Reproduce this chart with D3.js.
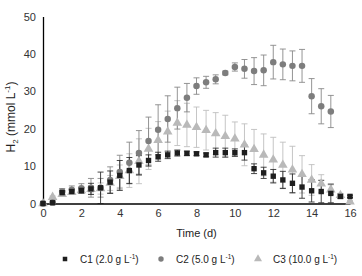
<!DOCTYPE html>
<html>
<head>
<meta charset="utf-8">
<script src="https://cdn.jsdelivr.net/npm/d3@7"></script>
<style>
  body { margin: 0; background: #fff; }
  text { font-family: "Liberation Sans", Arial, sans-serif; }
</style>
</head>
<body>
<div id="vis"></div>
<script>
const width = 362
const height = 276

// time in days, every half day
const time = d3.range(0, 16.01, 0.5)

const c1 = [0, 0.2, 2.9, 3.2, 3.5, 3.9, 4.2, 5.7, 7.5, 8.8, 10.3, 11.5, 12.5, 13.0, 13.5, 13.4, 13.3,
  13.0, 13.6, 13.6, 13.6, 13.6, 9.3, 8.2, 7.3, 6.3, 5.4, 4.4, 3.4, 3.2, 2.7, 1.9, 1.9]
const c1Err = [0, 0, 0.5, 0.6, 0.8, 1.5, 4.2, 3.0, 4.0, 3.5, 2.5, 1.5, 1.2, 1.0, 0.8, 0.6, 0.5,
  0.5, 1.2, 1.2, 1.0, 2.0, 1.3, 1.5, 1.8, 2.3, 2.5, 3.0, 3.0, 3.0, 2.5, 0.6, 0.3]

const c2 = [0, 0.3, 3.2, 3.7, 4.1, 4.2, 4.2, 6.3, 8.4, 10.9, 13.5, 16.7, 19.7, 22.6, 25.5, 28.3, 31.4,
  32.4, 33.2, 34.9, 36.5, 36.0, 35.4, 35.6, 37.8, 37.2, 36.8, 36.8, 28.7, 26.0, 24.6]
const c2Err = [0, 0, 0.8, 1.0, 1.2, 2.5, 2.5, 3.5, 4.5, 5.5, 6.0, 6.4, 6.7, 6.2, 5.6, 3.8, 2.2,
  1.6, 1.2, 0.5, 1.1, 2.5, 3.6, 4.1, 4.5, 4.1, 4.0, 4.4, 4.7, 4.7, 4.3]

const c3 = [0, 1.7, 2.5, 3.0, 3.5, 3.8, 4.0, 5.5, 7.3, 8.8, 11.3, 14.6, 16.9, 19.2, 21.5, 21.0, 20.4,
  19.6, 18.7, 18.0, 17.3, 15.7, 14.5, 13.0, 11.7, 10.3, 9.0, 7.8, 6.3, 5.3, 3.7, 2.2, 0.5]
const c3Err = [0, 0.3, 0.5, 0.6, 0.8, 1.0, 1.5, 2.0, 3.0, 4.5, 6.0, 5.5, 5.0, 5.5, 6.0, 5.8, 5.4,
  5.3, 5.6, 5.6, 4.5, 5.6, 5.3, 5.6, 6.0, 6.1, 6.3, 5.0, 4.1, 2.4, 1.3, 0.5, 0.3]

const xTicks = [0, 2, 4, 6, 8, 10, 12, 14, 16]
const yTicks = [0, 10, 20, 30, 40, 50]

const series = [
  { name: "C3", conc: "10.0", values: c3, err: c3Err, color: "#b9b9b9", shape: d3.symbolTriangle, size: 40 },
  { name: "C2", conc: "5.0", values: c2, err: c2Err, color: "#7d7d7d", shape: d3.symbolCircle, size: 33 },
  { name: "C1", conc: "2.0", values: c1, err: c1Err, color: "#1e1e1e", shape: d3.symbolSquare, size: 29 }
]

var svg = d3.select("#vis")
  .append("svg")
  .attr("width", width)
  .attr("height", height)

var x = d3.scaleLinear().domain([0, 16]).range([43, 350])
var y = d3.scaleLinear().domain([0, 50]).range([203.5, 16.5])

// axes
svg.append("g")
  .attr("transform", `translate(0,${y(0)})`)
  .call(d3.axisBottom(x).tickValues(xTicks).tickSize(0).tickPadding(6).tickSizeOuter(0))
  .call(g => g.select(".domain").attr("stroke", "#000").attr("stroke-width", 1.3))
  .call(g => g.selectAll("text").attr("font-size", 11).attr("fill", "#333"))

svg.append("g")
  .attr("transform", `translate(${x(0)},0)`)
  .call(d3.axisLeft(y).tickValues(yTicks).tickSize(0).tickPadding(7).tickSizeOuter(0))
  .call(g => g.select(".domain").attr("stroke", "#000").attr("stroke-width", 1.3))
  .call(g => g.selectAll("text").attr("font-size", 11).attr("fill", "#333"))

// error bars, then markers
series.forEach(s => {
  var pts = s.values.map((v, i) => ({ t: time[i], v: v, e: s.err[i] }))
  var eb = svg.append("g").attr("stroke", s.color).attr("stroke-width", 0.9).attr("opacity", 0.9)
  eb.selectAll(".bar").data(pts.filter(d => d.e > 0)).join("path")
    .attr("fill", "none")
    .attr("d", d => {
      var cx = x(d.t), y1 = y(Math.max(0, d.v - d.e)), y2 = y(d.v + d.e)
      return `M${cx},${y1}V${y2}M${cx - 3},${y2}H${cx + 3}M${cx - 3},${y1}H${cx + 3}`
    })
})

series.forEach(s => {
  var pts = s.values.map((v, i) => ({ t: time[i], v: v }))
  svg.append("g").selectAll("path").data(pts).join("path")
    .attr("d", d3.symbol().type(s.shape).size(s.size))
    .attr("transform", d => `translate(${x(d.t)},${y(d.v)})`)
    .attr("fill", s.color)
})

// axis titles
svg.append("text")
  .attr("x", (x(0) + x(16)) / 2)
  .attr("y", 237)
  .attr("text-anchor", "middle")
  .attr("font-size", 11)
  .attr("fill", "#222")
  .text("Time (d)")

var yt = svg.append("text")
  .attr("transform", `translate(15,117) rotate(-90)`)
  .attr("text-anchor", "middle")
  .attr("font-size", 12)
  .attr("fill", "#222")
yt.append("tspan").text("H")
yt.append("tspan").attr("font-size", 8).attr("dy", 3).text("2")
yt.append("tspan").attr("dy", -3).text(" (mmol L")
yt.append("tspan").attr("font-size", 8).attr("dy", -5).text("-1")
yt.append("tspan").attr("dy", 5).text(")")

// legend
var legend = svg.append("g").attr("transform", "translate(0,259)")
var legendX = [65, 161, 258]
series.slice().reverse().forEach((s, i) => {
  var g = legend.append("g").attr("transform", `translate(${legendX[i]},0)`)
  g.append("path")
    .attr("d", d3.symbol().type(s.shape).size(s.size * 0.7))
    .attr("fill", s.color)
  var t = g.append("text").attr("x", 15).attr("y", 4).attr("font-size", 10).attr("fill", "#222")
  t.append("tspan").text(`${s.name} (${s.conc} g L`)
  t.append("tspan").attr("font-size", 6.5).attr("dy", -4).text("-1")
  t.append("tspan").attr("dy", 4).text(")")
})
</script>
</body>
</html>
